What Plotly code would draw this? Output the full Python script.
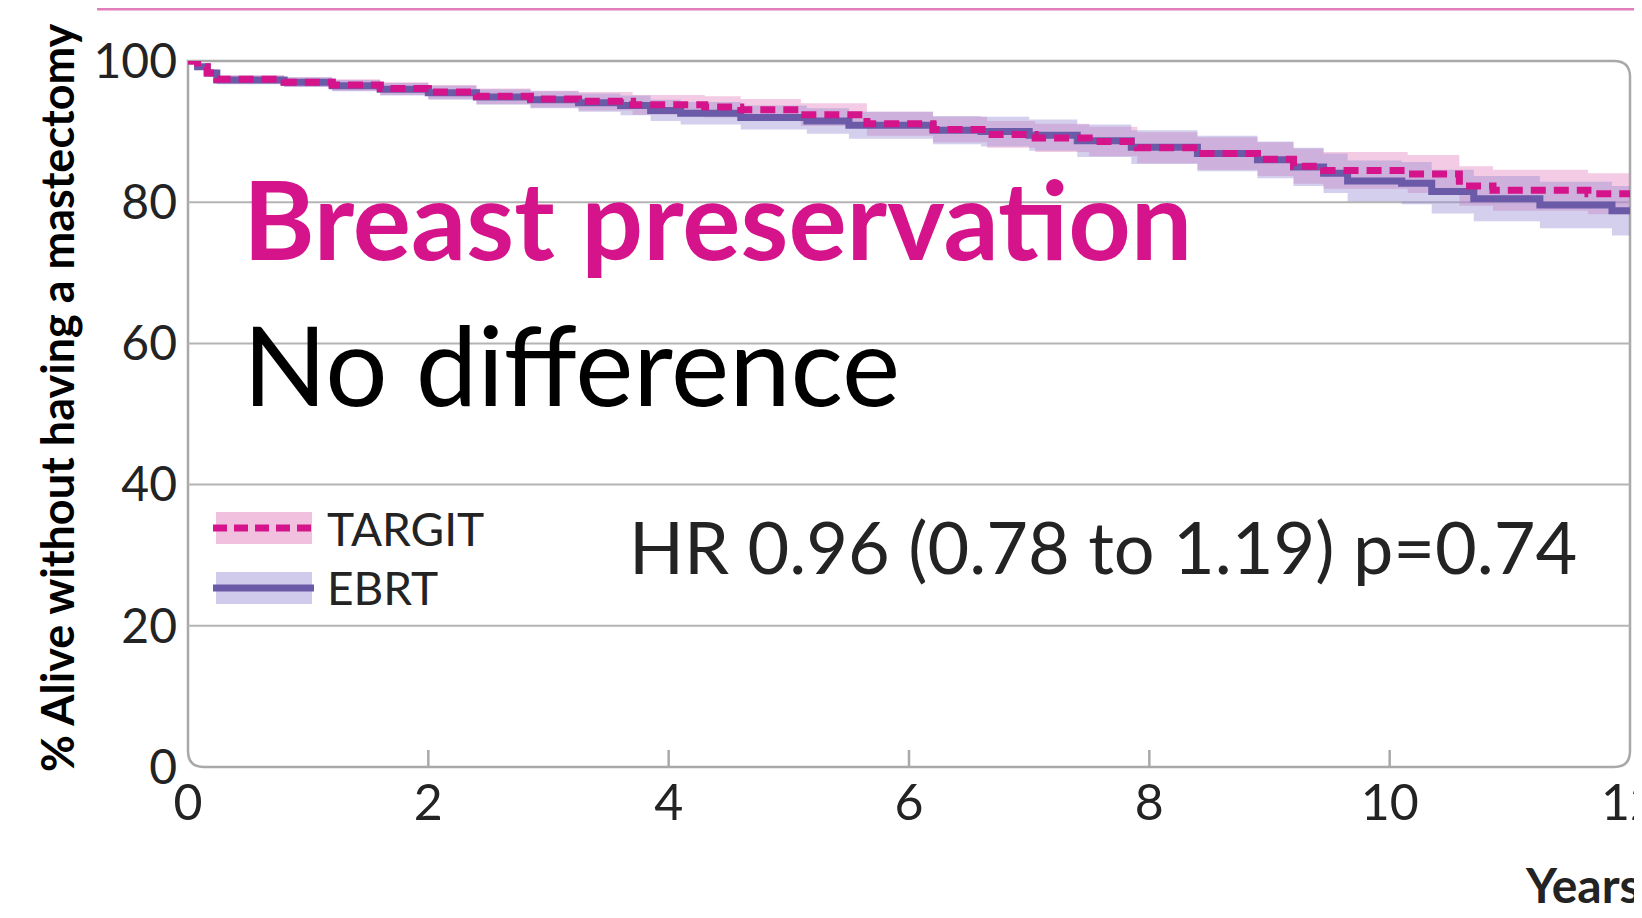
import plotly.graph_objects as go

W, H = 1642, 918

# ---- data ----
years_targit = [0, 0.08, 0.16, 0.24, 0.8, 1.2, 1.6, 2.0, 2.4, 2.85, 3.25, 3.7, 4.3, 4.6, 5.1, 5.65,
                6.2, 6.65, 7.05, 7.5, 7.9, 8.4, 8.9, 9.2, 9.45, 10.15, 10.58, 10.86, 11.65, 12.0]
surv_targit = [100, 99.2, 98.3, 97.4, 97.0, 96.6, 96.1, 95.6, 95.0, 94.6, 94.3, 93.8, 93.5, 93.1, 92.4, 91.1,
               90.3, 89.6, 89.1, 88.6, 87.7, 86.9, 86.1, 85.1, 84.5, 84.0, 82.3, 81.7, 81.2, 81.2]
lo_targit = [100, 98.9, 97.8, 96.8, 96.3, 95.8, 95.2, 94.6, 93.9, 93.4, 93.0, 92.4, 92.0, 91.6, 90.8, 89.4,
             88.5, 87.7, 87.1, 86.5, 85.5, 84.6, 83.7, 82.6, 81.9, 81.3, 79.5, 78.8, 78.3, 78.3]
hi_targit = [100, 99.5, 98.8, 98.0, 97.7, 97.4, 97.0, 96.6, 96.1, 95.8, 95.6, 95.2, 95.0, 94.6, 94.0, 92.8,
             92.1, 91.5, 91.1, 90.7, 89.9, 89.2, 88.5, 87.6, 87.1, 86.7, 85.1, 84.6, 84.1, 84.1]

years_ebrt = [0, 0.08, 0.16, 0.24, 0.8, 1.2, 1.6, 2.0, 2.4, 2.85, 3.25, 3.6, 3.85, 4.1, 4.6, 5.15, 5.5,
              6.2, 6.6, 7.0, 7.4, 7.85, 8.4, 8.9, 9.2, 9.45, 9.65, 10.1, 10.35, 10.7, 11.25, 11.85, 12.0]
surv_ebrt = [100, 99.2, 98.3, 97.3, 97.0, 96.5, 96.0, 95.5, 94.9, 94.5, 94.1, 93.7, 93.0, 92.6, 92.0, 91.5, 90.9,
             90.2, 90.0, 89.5, 88.7, 87.8, 86.9, 86.0, 85.0, 84.1, 83.0, 82.7, 81.5, 80.5, 79.6, 78.8, 78.8]
lo_ebrt = [100, 98.9, 97.8, 96.7, 96.3, 95.7, 95.1, 94.5, 93.8, 93.3, 92.8, 92.3, 91.5, 91.0, 90.3, 89.7, 89.0,
           88.2, 87.9, 87.3, 86.4, 85.4, 84.4, 83.4, 82.3, 81.3, 80.1, 79.7, 78.4, 77.3, 76.3, 75.3, 75.3]
hi_ebrt = [100, 99.5, 98.8, 97.9, 97.7, 97.3, 96.9, 96.5, 96.0, 95.7, 95.4, 95.1, 94.5, 94.2, 93.7, 93.3, 92.8,
           92.2, 92.1, 91.7, 91.0, 90.2, 89.4, 88.6, 87.7, 86.9, 85.9, 85.7, 84.6, 83.7, 82.9, 82.3, 82.3]

x_ticks = [0, 2, 4, 6, 8, 10, 12]
y_ticks = [0, 20, 40, 60, 80, 100]
series_names = ["TARGIT", "EBRT"]
title_main = "Breast preservation"
title_sub = "No difference"
hr_text = "HR 0.96 (0.78 to 1.19) p=0.74"
y_title = "% Alive without having a mastectomy"
x_title = "Years"

# ---- styles ----
MAGENTA = "#D5148B"
PURPLE = "#6A5AA8"
PINK_BAND = "rgba(228,130,190,0.42)"
LAV_BAND = "rgba(150,140,210,0.42)"
GRID = "#B4B4B4"
TXT = "#232323"

L, R, T, B = 188, 1630, 61, 767
OFF = 8  # page body margin


def px(x):
    return (x - OFF) / W


def py(y):
    return 1 - (y - OFF) / H


fig = go.Figure()

# bands
for yrs, lo, hi, col in [(years_targit, lo_targit, hi_targit, PINK_BAND),
                         (years_ebrt, lo_ebrt, hi_ebrt, LAV_BAND)]:
    fig.add_trace(go.Scatter(x=yrs, y=lo, mode="lines", line=dict(width=0, shape="hv"),
                             showlegend=False, hoverinfo="skip"))
    fig.add_trace(go.Scatter(x=yrs, y=hi, mode="lines", line=dict(width=0, shape="hv"),
                             fill="tonexty", fillcolor=col, showlegend=False, hoverinfo="skip"))

fig.add_trace(go.Scatter(x=years_ebrt, y=surv_ebrt, mode="lines", name=series_names[1],
                         line=dict(color=PURPLE, width=7, shape="hv"), showlegend=False))
fig.add_trace(go.Scatter(x=years_targit, y=surv_targit, mode="lines", name=series_names[0],
                         line=dict(color=MAGENTA, width=7, shape="hv", dash="15px,8px"), showlegend=False))

shapes = []
# box with rounded corners
r = 16
path = (f"M {px(L)},{py(T)} L {px(R - r)},{py(T)} Q {px(R)},{py(T)} {px(R)},{py(T + r)} "
        f"L {px(R)},{py(B - r)} Q {px(R)},{py(B)} {px(R - r)},{py(B)} "
        f"L {px(L + r)},{py(B)} Q {px(L)},{py(B)} {px(L)},{py(B - r)} Z")
shapes.append(dict(type="path", xref="paper", yref="paper", path=path,
                   line=dict(color="#A9A9A9", width=2.5), layer="below"))
# gridlines
for v in y_ticks[1:-1]:
    shapes.append(dict(type="line", xref="paper", yref="y", x0=px(L), x1=px(R), y0=v, y1=v,
                       line=dict(color=GRID, width=2), layer="below"))
# x ticks inside
for v in x_ticks[1:-1]:
    shapes.append(dict(type="line", xref="x", yref="paper", x0=v, x1=v, y0=py(B), y1=py(B - 17),
                       line=dict(color="#A9A9A9", width=2.5), layer="below"))
# top pink rule
shapes.append(dict(type="line", xref="paper", yref="paper", x0=px(97), x1=1, y0=py(9), y1=py(9),
                   line=dict(color="#E27CBB", width=3)))
# legend
shapes.append(dict(type="rect", xref="paper", yref="paper", x0=px(216), x1=px(312), y0=py(512), y1=py(544),
                   fillcolor="rgba(228,130,190,0.5)", line=dict(width=0)))
shapes.append(dict(type="rect", xref="paper", yref="paper", x0=px(216), x1=px(312), y0=py(572), y1=py(604),
                   fillcolor="rgba(150,140,210,0.45)", line=dict(width=0)))
shapes.append(dict(type="line", xref="paper", yref="paper", x0=px(213), x1=px(314), y0=py(528), y1=py(528),
                   line=dict(color=MAGENTA, width=7, dash="14px,7px")))
shapes.append(dict(type="line", xref="paper", yref="paper", x0=px(213), x1=px(314), y0=py(588), y1=py(588),
                   line=dict(color=PURPLE, width=7)))

ann = []
ann.append(dict(text=f"<b>{title_main}</b>", x=px(241), y=py(218), xanchor="left", yanchor="middle",
                font=dict(family="Lato", size=109, color=MAGENTA)))
ann.append(dict(text=title_sub, x=px(241), y=py(363), xanchor="left", yanchor="middle",
                font=dict(family="Lato", size=110, color="#000000")))
ann.append(dict(text=hr_text, x=px(627), y=py(546), xanchor="left", yanchor="middle",
                font=dict(family="Lato", size=72, color=TXT)))
ann.append(dict(text=series_names[0], x=px(325), y=py(528), xanchor="left", yanchor="middle",
                font=dict(family="Lato", size=46, color=TXT)))
ann.append(dict(text=series_names[1], x=px(325), y=py(587), xanchor="left", yanchor="middle",
                font=dict(family="Lato", size=46, color=TXT)))
ann.append(dict(text=f"<b>{y_title}</b>", x=px(57), y=py(398), xanchor="center", yanchor="middle",
                textangle=-90, font=dict(family="Lato", size=45, color="#000000")))
ann.append(dict(text=f"<b>{x_title}</b>", x=px(1523), y=py(884), xanchor="left", yanchor="middle",
                font=dict(family="Lato", size=48, color=TXT)))
for a in ann:
    a.update(xref="paper", yref="paper", showarrow=False)

fig.update_layout(
    template="none",
    width=W, height=H,
    margin=dict(l=0, r=0, t=0, b=0, pad=0, autoexpand=False),
    paper_bgcolor="white", plot_bgcolor="rgba(0,0,0,0)",
    showlegend=False,
    shapes=shapes, annotations=ann,
    xaxis=dict(domain=[px(L), px(R)], range=[0, 12], tickvals=x_ticks, ticks="", automargin=False,
               showgrid=False, zeroline=False, showline=False, ticklabelstandoff=2,
               ticklabeloverflow="allow",
               tickfont=dict(family="Lato", size=50, color=TXT)),
    yaxis=dict(domain=[py(B), py(T)], range=[0, 100], tickvals=y_ticks, ticks="", automargin=False,
               showgrid=False, zeroline=False, showline=False, ticklabelstandoff=10,
               tickfont=dict(family="Lato", size=48, color=TXT)),
)

fig.write_html("out.html")
